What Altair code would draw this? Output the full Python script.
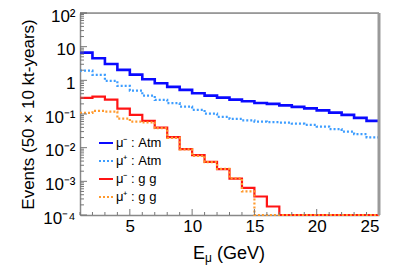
import altair as alt
import pandas as pd

# ---------------- data ----------------
edges = list(range(1, 26))  # bin edges, 1 GeV bins from 1 to 25
series_names = ["μ⁻ : Atm", "μ⁺ : Atm", "μ⁻ : g g", "μ⁺ : g g"]
mu_minus_atm = [6.64, 4.53, 3.07, 2.04, 1.48, 1.08, 0.82, 0.64, 0.52, 0.414, 0.352, 0.307,
                0.267, 0.240, 0.213, 0.200, 0.180, 0.1625, 0.1466, 0.128, 0.110, 0.094, 0.0766, 0.0624]
mu_plus_atm = [1.94, 1.45, 0.96, 0.68, 0.494, 0.352, 0.262, 0.209, 0.166, 0.1325, 0.102, 0.082,
               0.0716, 0.0646, 0.0594, 0.0571, 0.0552, 0.0515, 0.0475, 0.042, 0.0356, 0.0298, 0.0252, 0.0202]
mu_minus_gg = [0.30, 0.328, 0.267, 0.1436, 0.094, 0.0624, 0.0393, 0.0205, 0.0090, 0.00598, 0.0038, 0.00232,
               0.0012, 0.00064, 0.000354, 0.000179, 1e-4, 1e-4, 1e-4, 1e-4, 1e-4, 1e-4, 1e-4, 1e-4]
mu_plus_gg = [0.108, 0.1236, 0.118, 0.0726, 0.0594, 0.0563, 0.038, 0.0195, 0.0089, 0.0057, 0.00372, 0.00235,
              0.00123, 0.000501, 1e-4, 1e-4, 1e-4, 1e-4, 1e-4, 1e-4, 1e-4, 1e-4, 1e-4, 1e-4]
x_tick_values = [5, 10, 15, 20, 25]
y_tick_values = [1e-4, 1e-3, 1e-2, 1e-1, 1, 10, 100]

colors = ["#0a0aff", "#3d9dff", "#ff1414", "#ff9a2e"]
dashes = [[1, 0], [2, 2], [1, 0], [2, 2]]
widths = [2.6, 2.2, 2.2, 2.2]

rows = []
for name, vals in zip(series_names, [mu_minus_atm, mu_plus_atm, mu_minus_gg, mu_plus_gg]):
    ext = vals + [vals[-1]]
    for e, v in zip(edges, ext):
        rows.append({"E": e, "N": v, "s": name})
df = pd.DataFrame(rows)

W, H = 299, 202
FONT = "Liberation Sans"

xscale = alt.Scale(domain=[1, 25], nice=False, zero=False)
yscale = alt.Scale(type="log", domain=[1e-4, 100], nice=False)

xaxis = alt.Axis(values=x_tick_values, ticks=False, grid=False, domainColor="#888", domainWidth=1.5,
                 labelFontSize=17, labelPadding=3, labelFont=FONT, labelColor="#000", title=None)
yaxis = alt.Axis(values=y_tick_values, ticks=False, grid=False, domainColor="#888", domainWidth=1.5,
                 labelFontSize=17, labelPadding=5, labelOffset=3, labelFont=FONT, labelColor="#000",
                 labelExpr=("datum.value >= 50 ? '10²' : datum.value >= 5 ? '10' : datum.value >= 0.5 ? '1' : "
                            "datum.value >= 0.05 ? '10⁻¹' : datum.value >= 0.005 ? '10⁻²' : "
                            "datum.value >= 0.0005 ? '10⁻³' : '10⁻⁴'"),
                 title="Events (50 × 10 kt-years)", titleFont=FONT, titleFontSize=17,
                 titleFontWeight="normal", titleColor="#000", titleX=-52, titleY=H / 2,
                 titleAngle=270, titleAlign="center", titleBaseline="middle")

color_enc = alt.Color("s:N", scale=alt.Scale(domain=series_names, range=colors),
                      legend=alt.Legend(orient="none", legendX=18, legendY=122, title=None,
                                        symbolType="stroke", symbolSize=196, symbolStrokeWidth=2,
                                        labelFont=FONT, labelFontSize=13, labelColor="#000",
                                        rowPadding=3, labelOffset=2, padding=0))
dash_enc = alt.StrokeDash("s:N", scale=alt.Scale(domain=series_names, range=dashes))

layers = []
for i, name in enumerate(series_names):
    layers.append(
        alt.Chart(df).transform_filter(alt.datum.s == name)
        .mark_line(interpolate="step-after", strokeWidth=widths[i])
        .encode(x=alt.X("E:Q", scale=xscale, axis=xaxis),
                y=alt.Y("N:Q", scale=yscale, axis=yaxis),
                color=color_enc, strokeDash=dash_enc)
    )

# inward ticks
x_minor = pd.DataFrame({"E": [e for e in edges if e not in x_tick_values]})
x_major = pd.DataFrame({"E": x_tick_values})
y_major = pd.DataFrame({"N": y_tick_values})
y_minor = pd.DataFrame({"N": [m * 10 ** d for d in range(-4, 2) for m in range(2, 10)]})

tick_color = "#777"
xt_minor = alt.Chart(x_minor).mark_rule(color=tick_color, strokeWidth=1).encode(
    x=alt.X("E:Q", scale=xscale), y=alt.value(H), y2=alt.value(H - 3))
xt_major = alt.Chart(x_major).mark_rule(color=tick_color, strokeWidth=1).encode(
    x=alt.X("E:Q", scale=xscale), y=alt.value(H), y2=alt.value(H - 6))
yt_minor = alt.Chart(y_minor).mark_rule(color=tick_color, strokeWidth=1).encode(
    y=alt.Y("N:Q", scale=yscale), x=alt.value(0), x2=alt.value(4))
yt_major = alt.Chart(y_major).mark_rule(color=tick_color, strokeWidth=1).encode(
    y=alt.Y("N:Q", scale=yscale), x=alt.value(0), x2=alt.value(7))

one = pd.DataFrame({"a": [0]})
top_rule = alt.Chart(one).mark_rule(color="#555", strokeWidth=1).encode(
    x=alt.value(0), x2=alt.value(W), y=alt.value(0))
right_rule = alt.Chart(one).mark_rule(color="#9a9a9a", strokeWidth=3).encode(
    x=alt.value(W), y=alt.value(0), y2=alt.value(H))

t_E = alt.Chart(one).mark_text(text="E", font=FONT, fontSize=18, align="left", baseline="alphabetic",
                               color="#000").encode(x=alt.value(113), y=alt.value(246))
t_mu = alt.Chart(one).mark_text(text="μ", font=FONT, fontSize=12, align="left", baseline="alphabetic",
                                color="#000").encode(x=alt.value(125), y=alt.value(249))
t_gev = alt.Chart(one).mark_text(text="(GeV)", font=FONT, fontSize=18, align="left", baseline="alphabetic",
                                 color="#000").encode(x=alt.value(137), y=alt.value(246))

chart = alt.layer(*layers, xt_minor, xt_major, yt_minor, yt_major, top_rule, right_rule,
                  t_E, t_mu, t_gev).properties(
    width=W, height=H,
    padding={"left": 72, "top": 5, "right": 12, "bottom": 55},
    autosize=alt.AutoSizeParams(type="none"),
).configure_view(stroke=None).configure(background="white")

chart.save("out.html", embed_options={"renderer": "svg", "actions": False})
